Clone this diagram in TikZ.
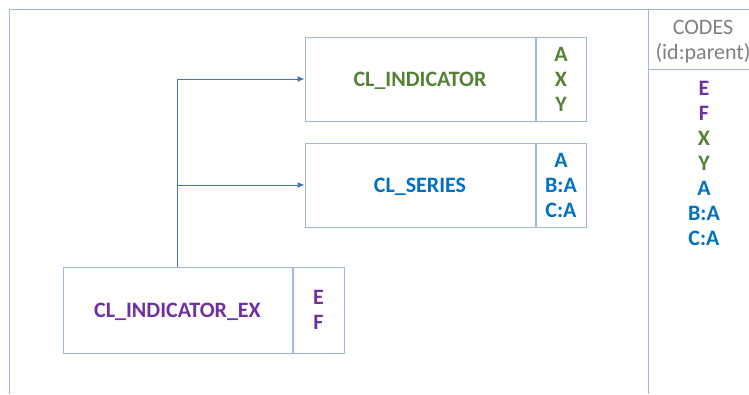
\documentclass[tikz,border=0pt]{standalone}
\usepackage{fontspec}
\setmainfont{Carlito}
\usetikzlibrary{arrows.meta}
\definecolor{clgreen}{HTML}{548235}
\definecolor{clblue}{HTML}{0070C0}
\definecolor{clpurple}{HTML}{7030A0}
\definecolor{clgrey}{HTML}{7F7F7F}
\definecolor{frameline}{HTML}{9DB9E3}
\definecolor{linkline}{HTML}{4472C4}

\begin{document}
\begin{tikzpicture}[x=1pt,y=-1pt,line width=1pt,
    namebox/.style={draw=frameline,minimum width=230pt,minimum height=84pt,inner sep=0pt,
      text height=14pt,text depth=0pt,font={\fontsize{22}{25}\selectfont\bfseries}},
    codebox/.style={draw=frameline,minimum width=50pt,minimum height=84pt,inner sep=0pt,align=center,
      font={\fontsize{22}{25}\selectfont\bfseries}},
    link/.style={draw=linkline,-{Latex[length=7pt,width=6pt]}}]
    \useasboundingbox (0,0) rectangle (749,394);
    % frame and codes column
    \draw[frameline] (9,394) -- (9,9) -- (749,9);
    \draw[frameline] (648,9) -- (648,394);
    \draw[frameline] (648,69) -- (749,69);
    \node[text=clgrey,font={\fontsize{22}{25}\selectfont},align=center] (codeshead) at (703,42) {CODES\\(id:parent)};
    \node[font={\fontsize{22}{25}\selectfont\bfseries},align=center] (codeslist) at (704,163)
      {\textcolor{clpurple}{E}\\\textcolor{clpurple}{F}\\\textcolor{clgreen}{X}\\\textcolor{clgreen}{Y}\\
       \textcolor{clblue}{A}\\\textcolor{clblue}{B:A}\\\textcolor{clblue}{C:A}};
    % code lists
    \node[namebox,text=clgreen] (ind) at (420,79) {CL\_INDICATOR};
    \node[codebox,text=clgreen,anchor=west] (indcodes) at (ind.east) {A\\X\\Y};
    \node[namebox,text=clblue] (ser) at (420,185) {CL\_SERIES};
    \node[codebox,text=clblue,anchor=west] (sercodes) at (ser.east) {A\\B:A\\C:A};
    \node[namebox,minimum height=86pt,minimum width=229pt,text=clpurple] (index) at (177.5,310) {CL\_INDICATOR\_EX};
    \node[codebox,minimum height=86pt,minimum width=51pt,text=clpurple,anchor=west] (indexcodes) at (index.east) {E\\F};
    % extension links
    \draw[link] (index.north) |- (ind.west);
    \draw[link] (index.north) |- (ser.west);
\end{tikzpicture}
\end{document}
